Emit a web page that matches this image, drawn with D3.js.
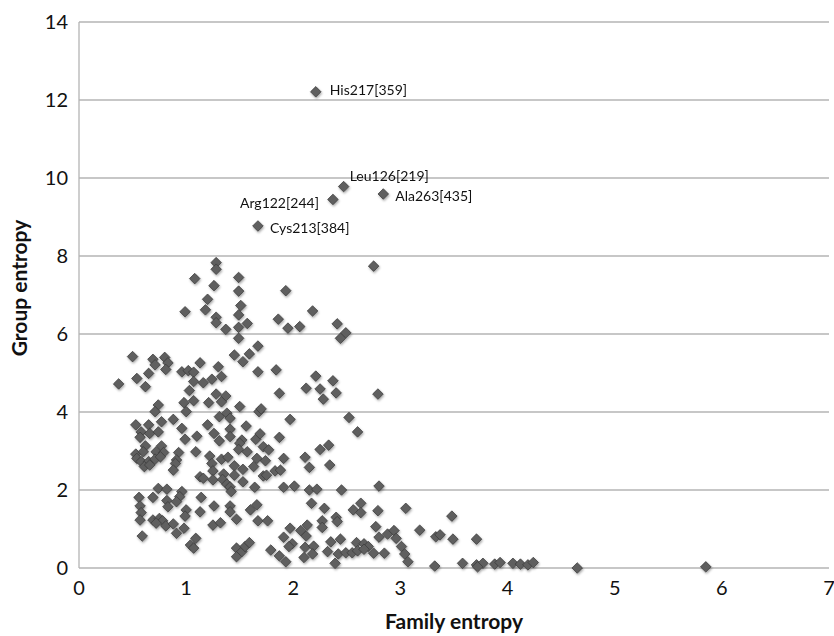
<!DOCTYPE html>
<html lang="en">
<head>
  <meta charset="UTF-8">
  <title>Family vs group entropy</title>
  <style>
    body { margin: 0; background: #fff; }
    svg { display: block; font-family: Lato, "Open Sans", sans-serif; }
    .grid line { stroke: #b4b4b4; stroke-width: 1.3px; }
    .tick-label { font-size: 20px; fill: #111; }
    .axis-title { font-size: 21px; font-weight: bold; fill: #111; }
    .point-label { font-size: 14px; fill: #111; }
  </style>
</head>
<body>
  <svg width="834" height="636"></svg>

  <script src="https://d3js.org/d3.v7.min.js"></script>
  <script>
    // values
    const familyEntropy = [
      1.28,1.28,1.08,1.49,1.26,1.49,1.20,1.51,0.99,1.18,1.28,1.49,1.28,1.57,1.37,1.49,1.49,1.67,
      0.50,1.45,1.59,0.69,0.80,0.71,0.83,1.53,1.13,0.54,0.65,0.81,0.96,1.02,1.07,1.30,1.67,0.37,
      0.62,1.07,1.16,1.24,1.33,1.03,1.28,1.37,1.33,0.74,0.98,1.07,1.21,1.50,0.71,1.00,0.53,0.65,
      0.77,0.88,1.20,1.31,1.38,1.41,1.56,1.68,0.58,0.66,0.74,0.96,1.26,1.41,0.57,0.99,1.10,1.31,
      1.41,1.52,1.65,0.62,0.77,1.50,1.49,0.53,0.60,0.72,0.79,0.93,1.09,1.57,0.54,0.58,0.65,0.71,
      0.76,0.91,1.22,1.33,1.39,1.66,0.61,0.66,0.90,1.24,0.88,1.25,1.45,1.53,1.63,1.35,1.45,1.13,
      1.16,1.25,1.34,1.38,1.53,1.41,1.64,1.42,0.74,0.82,0.96,0.56,0.69,0.94,1.14,0.82,0.91,0.57,
      0.83,1.00,1.26,1.41,1.60,1.66,0.58,1.13,1.41,0.99,0.57,0.69,0.75,0.78,0.72,0.81,0.88,0.98,
      1.25,1.32,1.47,0.91,0.59,1.09,1.04,1.07,1.47,1.52,1.55,1.59,1.47,
      2.75,1.93,2.18,1.86,1.95,2.06,2.41,2.49,2.44,1.84,2.21,2.37,2.12,2.25,2.40,1.87,2.28,2.79,
      1.70,1.97,2.52,2.60,1.69,1.87,1.72,1.77,2.25,2.33,1.74,1.91,2.11,2.15,2.34,1.83,1.88,1.72,
      1.75,1.91,2.01,2.15,2.22,2.45,2.80,2.17,2.29,2.56,2.63,2.63,2.79,3.05,1.67,1.76,1.97,2.07,
      2.13,2.27,2.27,2.40,2.41,2.77,3.18,3.33,1.91,2.12,2.80,2.88,2.94,2.96,2.35,2.44,1.79,1.99,
      1.96,2.11,2.19,2.59,2.66,2.70,3.01,1.87,1.93,2.10,2.18,2.32,2.42,2.49,2.55,2.60,2.66,2.75,
      2.85,3.04,3.07,2.39,3.32,3.48,3.37,3.49,3.71,3.58,3.71,3.77,3.72,3.88,3.93,4.05,4.12,4.19,
      4.24,4.65,5.85
    ];
    const groupEntropy = [
      7.83,7.66,7.42,7.45,7.24,7.10,6.89,6.73,6.57,6.62,6.43,6.49,6.29,6.27,6.12,6.17,5.89,5.69,
      5.42,5.46,5.49,5.35,5.40,5.21,5.26,5.29,5.26,4.86,4.99,5.09,5.03,5.06,5.02,5.16,5.03,4.72,
      4.65,4.78,4.75,4.84,4.91,4.55,4.46,4.41,4.26,4.18,4.24,4.29,4.24,4.14,4.01,4.01,3.67,3.67,
      3.75,3.81,3.67,3.88,3.97,3.84,3.64,4.01,3.49,3.45,3.49,3.58,3.45,3.56,3.35,3.30,3.38,3.26,
      3.37,3.28,3.30,3.13,3.13,3.20,3.04,2.92,2.98,2.98,2.96,2.96,2.98,2.98,2.81,2.73,2.73,2.79,
      2.85,2.77,2.87,2.79,2.84,2.81,2.60,2.64,2.68,2.68,2.51,2.49,2.62,2.53,2.60,2.41,2.38,2.34,
      2.30,2.26,2.27,2.15,2.21,2.08,2.07,1.96,2.04,2.02,1.96,1.81,1.81,1.83,1.81,1.73,1.70,1.59,
      1.57,1.49,1.59,1.59,1.49,1.62,1.42,1.44,1.44,1.33,1.23,1.23,1.27,1.21,1.15,1.08,1.13,1.02,
      1.10,1.16,1.25,0.89,0.82,0.76,0.59,0.51,0.51,0.42,0.55,0.65,0.29,
      7.74,7.11,6.59,6.38,6.15,6.19,6.26,6.03,5.89,5.08,4.92,4.80,4.61,4.59,4.49,4.48,4.33,4.46,
      4.08,3.81,3.86,3.49,3.44,3.35,3.11,3.03,3.04,3.15,2.75,2.81,2.84,2.58,2.64,2.49,2.51,2.36,
      2.38,2.07,2.10,2.00,2.02,2.00,2.10,1.66,1.53,1.49,1.66,1.42,1.47,1.53,1.21,1.21,1.02,0.96,
      1.10,1.21,1.04,1.30,1.19,1.06,0.97,0.80,0.79,0.82,0.79,0.87,0.96,0.76,0.67,0.74,0.46,0.62,
      0.55,0.53,0.56,0.65,0.62,0.55,0.55,0.31,0.16,0.27,0.36,0.42,0.36,0.39,0.39,0.44,0.48,0.38,
      0.38,0.36,0.16,0.12,0.05,1.33,0.85,0.74,0.74,0.12,0.08,0.12,0.03,0.10,0.14,0.12,0.10,0.08,
      0.14,0.00,0.03
    ];

    // named residues
    const labelNames = ["His217[359]", "Leu126[219]", "Arg122[244]", "Ala263[435]", "Cys213[384]"];
    const labelFamily = [2.21, 2.47, 2.37, 2.84, 1.67];
    const labelGroup = [12.21, 9.78, 9.45, 9.59, 8.77];

    const xTicks = [0, 1, 2, 3, 4, 5, 6, 7];
    const yTicks = [0, 2, 4, 6, 8, 10, 12, 14];

    const width = 834, height = 636;
    const margin = { left: 79, right: 5, top: 22, bottom: 68 };

    const svg = d3.select("svg");

    const x = d3.scaleLinear().domain([0, 7]).range([margin.left, width - margin.right]);
    const y = d3.scaleLinear().domain([0, 14]).range([height - margin.bottom, margin.top]);

    const defs = svg.append("defs");
    const shadow = defs.append("filter").attr("id", "shadow")
      .attr("x", "-50%").attr("y", "-50%").attr("width", "200%").attr("height", "200%");
    shadow.append("feDropShadow")
      .attr("dx", 0.8).attr("dy", 1.5).attr("stdDeviation", 1)
      .attr("flood-color", "#000").attr("flood-opacity", 0.35);

    // horizontal gridlines
    svg.append("g").attr("class", "grid")
      .selectAll("line")
      .data(yTicks)
      .join("line")
      .attr("x1", x(0)).attr("x2", x(7))
      .attr("y1", d => y(d)).attr("y2", d => y(d));

    // left axis line
    svg.append("g").attr("class", "grid")
      .append("line")
      .attr("x1", x(0)).attr("x2", x(0))
      .attr("y1", y(0)).attr("y2", y(14));

    svg.append("g")
      .selectAll("text")
      .data(yTicks)
      .join("text")
      .attr("class", "tick-label")
      .attr("x", x(0) - 11)
      .attr("y", d => y(d))
      .attr("dy", "0.35em")
      .attr("text-anchor", "end")
      .text(d => d);

    svg.append("g")
      .selectAll("text")
      .data(xTicks)
      .join("text")
      .attr("class", "tick-label")
      .attr("x", d => x(d))
      .attr("y", y(0) + 27)
      .attr("text-anchor", "middle")
      .text(d => d);

    svg.append("text")
      .attr("class", "axis-title")
      .attr("x", (x(0) + x(7)) / 2)
      .attr("y", 629)
      .attr("text-anchor", "middle")
      .text("Family entropy");

    svg.append("text")
      .attr("class", "axis-title")
      .attr("transform", `translate(27, 288) rotate(-90)`)
      .attr("text-anchor", "middle")
      .text("Group entropy");

    const points = familyEntropy.map((f, i) => ({ f, g: groupEntropy[i] }));
    const labelled = labelNames.map((name, i) => ({ name, f: labelFamily[i], g: labelGroup[i] }));

    const diamond = d3.symbol(d3.symbolSquare, 56);

    svg.append("g")
      .attr("filter", "url(#shadow)")
      .selectAll("path")
      .data(points.concat(labelled))
      .join("path")
      .attr("d", diamond)
      .attr("transform", d => `translate(${x(d.f)},${y(d.g)}) rotate(45)`)
      .attr("fill", "#5e5e5e")
      .attr("stroke", "#3c3c3c")
      .attr("stroke-width", 0.7);

    // where each label sits relative to its marker
    const placement = {
      "His217[359]": { dx: 14, dy: -2, anchor: "start" },
      "Leu126[219]": { dx: 6, dy: -10, anchor: "start" },
      "Arg122[244]": { dx: -14, dy: 4, anchor: "end" },
      "Ala263[435]": { dx: 12, dy: 2, anchor: "start" },
      "Cys213[384]": { dx: 12, dy: 2, anchor: "start" }
    };

    svg.append("g")
      .selectAll("text")
      .data(labelled)
      .join("text")
      .attr("class", "point-label")
      .attr("x", d => x(d.f) + placement[d.name].dx)
      .attr("y", d => y(d.g) + placement[d.name].dy)
      .attr("dy", "0.35em")
      .attr("text-anchor", d => placement[d.name].anchor)
      .text(d => d.name);
  </script>
</body>
</html>
